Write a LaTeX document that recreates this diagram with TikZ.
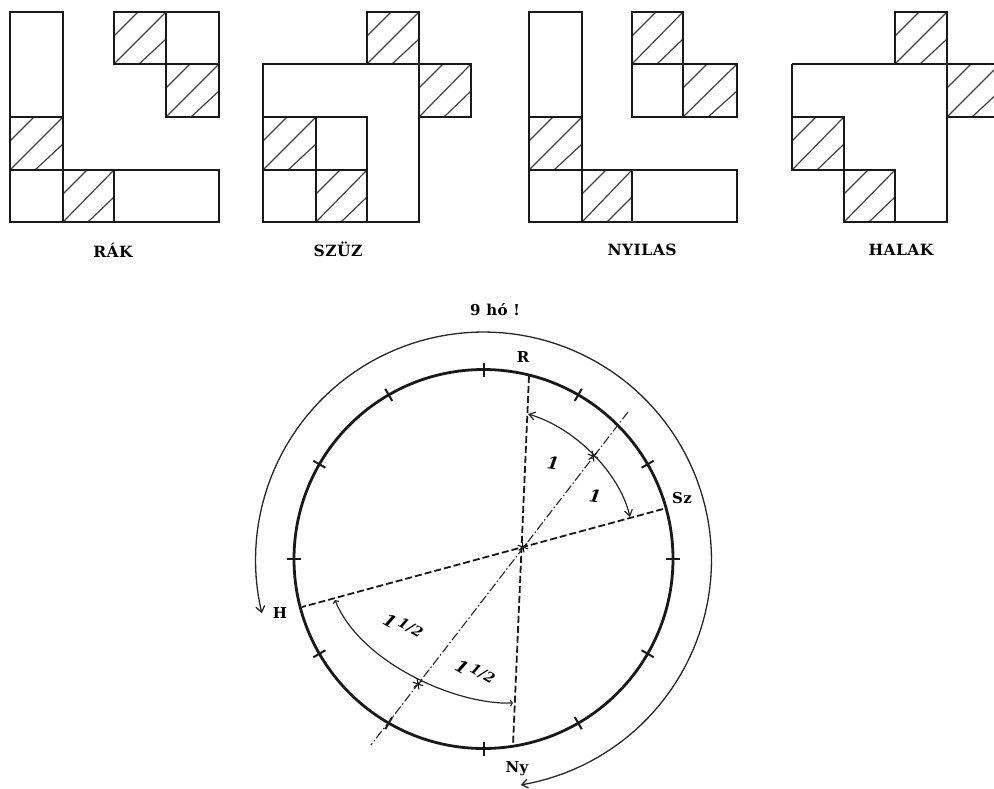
\documentclass[tikz,border=0pt]{standalone}
\usepackage{fontspec}
\newfontfamily\heavy[LetterSpace=3]{DejaVu Serif}
\usetikzlibrary{arrows.meta}
\newcommand{\hcell}[4]{%
  \draw[hatchline] (#1,#2+24) -- (#1+24,#2);
  \draw[hatchline] (#1,#4) -- (#3,#2);
  \draw[hatchline] (#1+25,#4) -- (#3,#2+27);
}
\newcommand{\starmark}[1]{%
  \foreach \a in {20,80,140} \draw[thin line] ([shift={(\a:5.5)}]#1) -- ([shift={(\a+180:5.5)}]#1);
}
\tikzset{
  boxline/.style={line width=2.4pt,black!90,line join=miter},
  hatchline/.style={line width=1.2pt,black!75},
  thin line/.style={line width=1.1pt,black!90},
  rim/.style={line width=2.8pt,black!90},
  tickline/.style={line width=2pt,black!90},
  outerarc/.style={line width=1.3pt,black!85},
  dashline/.style={line width=1.8pt,black!90,dash pattern=on 7pt off 3pt},
  axis line/.style={line width=1.1pt,black!85,dash pattern=on 9pt off 2.5pt on 1.5pt off 2.5pt},
  measure/.style={line width=1.2pt,black!85},
  title/.style={font=\heavy\fontsize{15.5}{20}\selectfont\bfseries,inner sep=0pt},
  mark label/.style={font=\heavy\fontsize{15}{20}\selectfont\bfseries,inner sep=0pt},
  fraction/.style={font=\heavy\fontsize{17}{22}\selectfont\bfseries\itshape,inner sep=0pt},
}
\begin{document}
\begin{tikzpicture}[x=1pt,y=-1pt]
\useasboundingbox (0,0) rectangle (994,788);
\clip (0,0) rectangle (994,788);
% RAK
\hcell{114}{12}{166}{64}\hcell{166}{64}{219}{117}\hcell{10}{117}{63}{170}\hcell{63}{170}{114}{222}
\draw[boxline] (10,12) rectangle (63,222);
\draw[boxline] (10,117) -- (63,117);
\draw[boxline] (10,170) rectangle (219,222);
\draw[boxline] (63,170) -- (63,222) (114,170) -- (114,222);
\draw[boxline] (114,12) rectangle (219,64);
\draw[boxline] (166,12) -- (166,117) -- (219,117) -- (219,64);
% SZUZ
\hcell{367}{12}{419}{64}\hcell{419}{64}{471}{117}\hcell{263}{117}{316}{170}\hcell{316}{170}{367}{222}
\draw[boxline] (263,64) rectangle (419,222);
\draw[boxline] (367,64) -- (367,12) -- (419,12) -- (419,64);
\draw[boxline] (419,64) -- (471,64) -- (471,117) -- (419,117);
\draw[boxline] (263,117) -- (367,117) -- (367,222);
\draw[boxline] (263,170) -- (367,170);
\draw[boxline] (316,117) -- (316,222);
% NYILAS
\hcell{632}{12}{683}{64}\hcell{683}{64}{737}{117}\hcell{529}{117}{582}{170}\hcell{582}{170}{632}{222}
\draw[boxline] (529,12) rectangle (582,222);
\draw[boxline] (529,117) -- (582,117);
\draw[boxline] (529,170) rectangle (737,222);
\draw[boxline] (582,170) -- (582,222) (632,170) -- (632,222);
\draw[boxline] (632,12) rectangle (683,64);
\draw[boxline] (632,64) rectangle (737,117);
\draw[boxline] (683,64) -- (683,117);
% HALAK
\hcell{895}{12}{947}{64}\hcell{947}{64}{1000}{117}\hcell{792}{117}{844}{170}\hcell{844}{170}{895}{222}
\draw[boxline] (792,64) -- (1000,64) (1000,117) -- (947,117);
\draw[boxline] (895,64) -- (895,12) -- (947,12) -- (947,222) -- (844,222) -- (844,117) -- (792,117);
\draw[boxline] (792,64) -- (792,170) -- (895,170) -- (895,222);
% titles
\node[title] (rak) at (113,250) {RÁK};
\node[title] (szuz) at (338,249) {SZÜZ};
\node[title] (nyilas) at (642,250) {NYILAS};
\node[title] (halak) at (901,250) {HALAK};
% circle
\coordinate (O) at (483.5,559);
\coordinate (C) at (523,547);
\coordinate (R) at (529,376);
\coordinate (Ny) at (513,745);
\coordinate (Sz) at (663,509);
\coordinate (Hh) at (302,607);
\coordinate (A1) at (628,412);
\coordinate (A2) at (371,745);
\coordinate (M1) at (593,456);
\coordinate (M2) at (418,684);
\draw[rim] (O) circle[radius=189.5];
\foreach \a in {0,30,...,330}
  \draw[tickline] ({483.5+182.5*cos(\a)},{559-182.5*sin(\a)}) -- ({483.5+196.5*cos(\a)},{559-196.5*sin(\a)});
\draw[dashline] (R) -- (Ny);
\draw[dashline] (Sz) -- (Hh);
\draw[axis line] (A1) -- (A2);
\starmark{M1}\starmark{M2}\starmark{C}
% measures
\coordinate (U1) at (528,414);
\coordinate (U2) at (630,517);
\draw[measure,{Straight Barb[length=6pt,width=8pt]}-{Straight Barb[length=6pt,width=8pt]}] (U1) .. controls (576,428) and (620,474) .. (U2);
\coordinate (L1) at (335,600);
\coordinate (L2) at (513,703);
\draw[measure,{Straight Barb[length=2pt,width=6pt]}-{Straight Barb[length=2pt,width=6pt]}] (L1) .. controls (360,662) and (455,705) .. (L2);
% outer arc
\draw[outerarc,{Straight Barb[length=6pt,width=9pt]}-{Straight Barb[length=6pt,width=9pt]}] plot[domain=193.5:-80.6,samples=120] ({483.5+228*cos(\x)},{560-228*sin(\x)});
% labels
\node[mark label] (nine) at (495,310) {9 hó !};
\node[mark label] (lr) at (523,357) {R};
\node[mark label] (lsz) at (682,498) {Sz};
\node[mark label] (lh) at (280,613) {H};
\node[mark label] (lny) at (517,769) {Ny};
\node[fraction,rotate=-8] (f1) at (553,463) {1};
\node[fraction,rotate=-8] (f2) at (595,496) {1};
\node[fraction,rotate=-30] (f3) at (403,626) {1\,\raisebox{6pt}{\fontsize{14}{16}\selectfont 1/2}};
\node[fraction,rotate=-30] (f4) at (475,672) {1\,\raisebox{6pt}{\fontsize{14}{16}\selectfont 1/2}};
\end{tikzpicture}
\end{document}
